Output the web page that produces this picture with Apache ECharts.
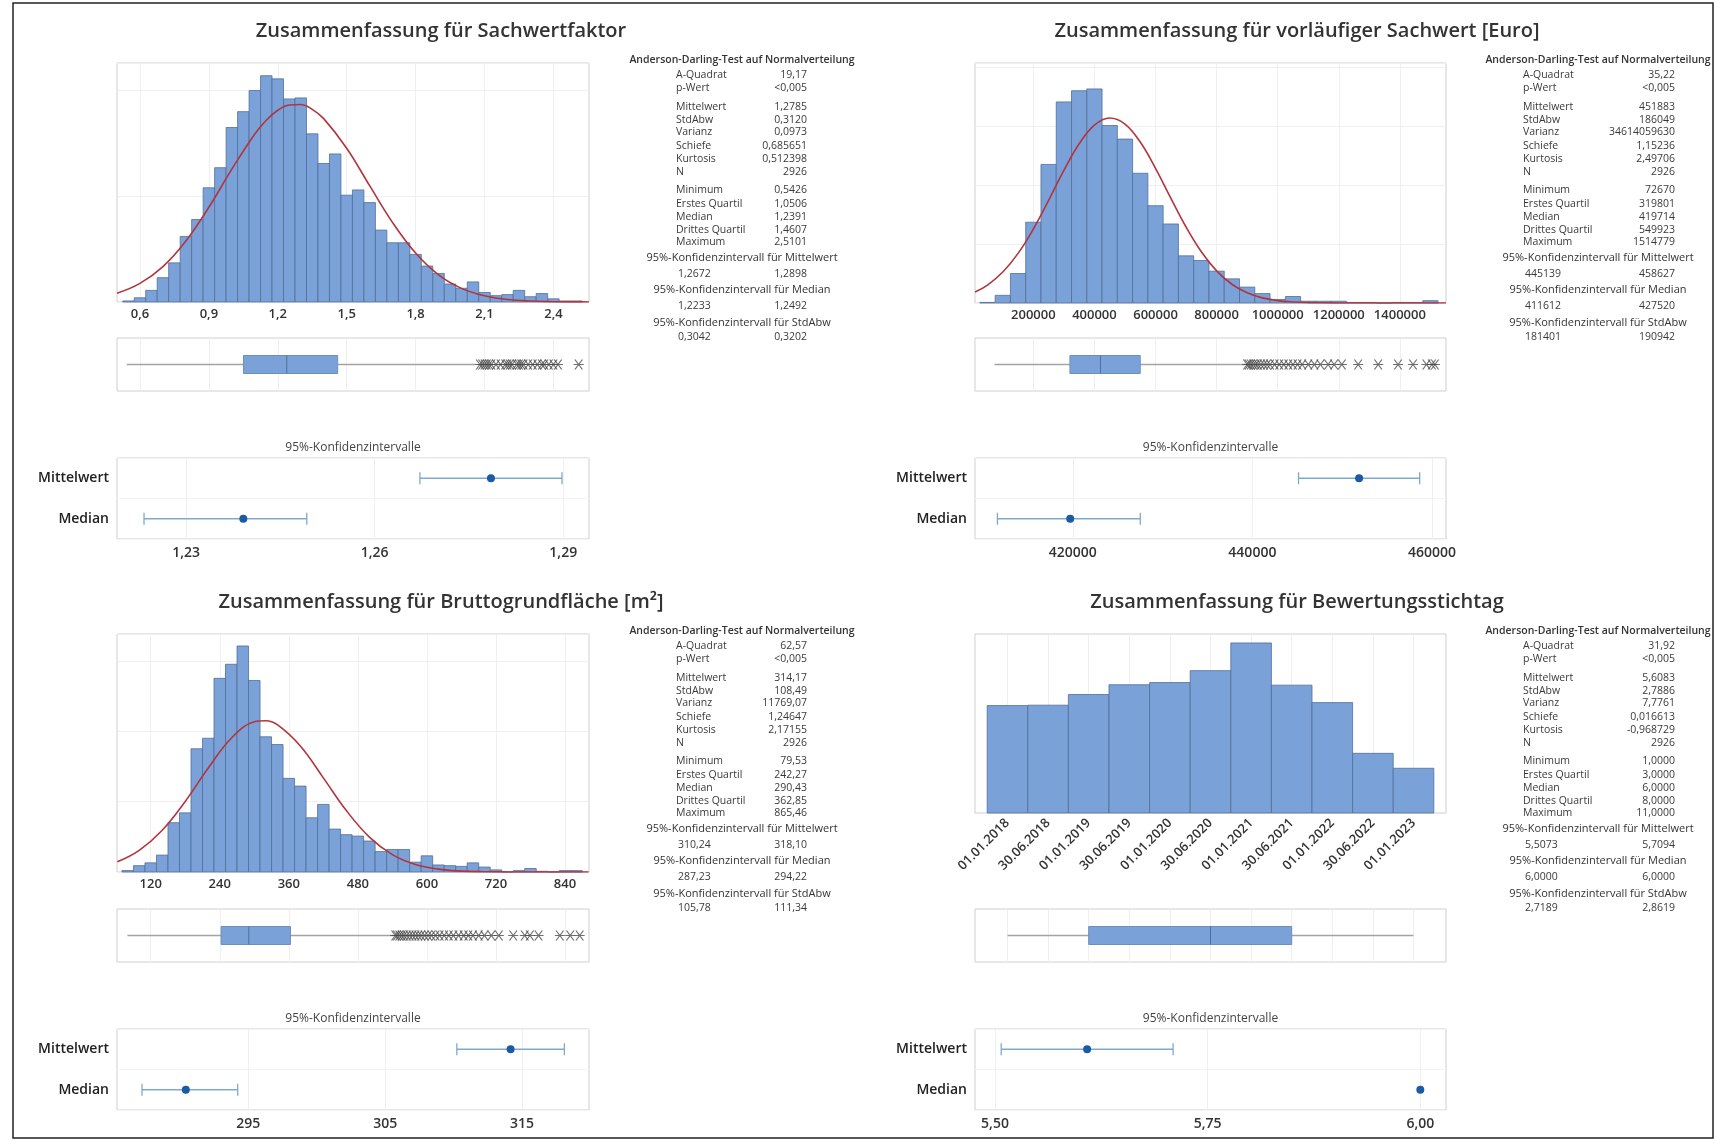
<!DOCTYPE html>
<html><head><meta charset="utf-8">
<script src="https://cdn.jsdelivr.net/npm/echarts@6/dist/echarts.min.js"></script>
<style>html,body{margin:0;padding:0;background:#fff}#c{width:1716px;height:1141px}</style>
</head><body><div id="c"></div>
<script>
// ---------------- DATA ----------------
// Sachwertfaktor
const sfBinWidth = 0.05;
const sfBinCenters = [0.55,0.60,0.65,0.70,0.75,0.80,0.85,0.90,0.95,1.00,1.05,1.10,1.15,1.20,1.25,1.30,1.35,1.40,1.45,1.50,1.55,1.60,1.65,1.70,1.75,1.80,1.85,1.90,1.95,2.00,2.05,2.10,2.15,2.20,2.25,2.30,2.35,2.40,2.45,2.50];
const sfCounts = [1,4,11,23,37,62,78,108,127,165,180,200,214,211,192,193,159,131,140,101,106,94,68,56,56,45,34,27,17,13,19,9,6,7,11,5,8,3,1,1];
const sfNormal = [[0.5,8.3],[0.6,17.6],[0.7,33.5],[0.8,57.7],[0.9,89.6],[1.0,125.6],[1.1,158.8],[1.15,171.9],[1.2,181.3],[1.25,186.3],[1.3,186.7],[1.35,182.2],[1.4,173.4],[1.5,145.4],[1.6,110.0],[1.7,75.1],[1.8,46.3],[1.9,25.7],[2.0,12.9],[2.1,5.9],[2.2,2.4],[2.3,0.9],[2.4,0.3],[2.5,0.1],[2.555,0.04]];
const sfTicks = [0.6,0.9,1.2,1.5,1.8,2.1,2.4];
const sfBox = [0.5426, 1.0506, 1.2391, 1.4607, 2.06];
const sfOutliers = [2.08,2.09,2.10,2.11,2.12,2.13,2.15,2.17,2.19,2.20,2.21,2.22,2.24,2.25,2.26,2.27,2.29,2.31,2.33,2.35,2.36,2.38,2.40,2.42,2.51];
const sfCIMean = [1.2672, 1.2785, 1.2898];
const sfCIMedian = [1.2233, 1.2391, 1.2492];
const sfCITicks = [1.23, 1.26, 1.29];
const sfStatRows = [['A-Quadrat','19,17'],['p-Wert','<0,005'],['Mittelwert','1,2785'],['StdAbw','0,3120'],['Varianz','0,0973'],['Schiefe','0,685651'],['Kurtosis','0,512398'],['N','2926'],['Minimum','0,5426'],['Erstes Quartil','1,0506'],['Median','1,2391'],['Drittes Quartil','1,4607'],['Maximum','2,5101']];
const sfStatCI = [['1,2672','1,2898'],['1,2233','1,2492'],['0,3042','0,3202']];

// vorläufiger Sachwert
const vsBinWidth = 50000;
const vsBinCenters = [50000,100000,150000,200000,250000,300000,350000,400000,450000,500000,550000,600000,650000,700000,750000,800000,850000,900000,950000,1000000,1050000,1100000,1150000,1200000,1250000,1300000,1350000,1400000,1450000,1500000];
const vsCounts = [1,13,50,137,235,341,360,363,301,278,220,165,134,80,72,54,41,27,16,6,11,3,3,3,1,1,0,1,1,4];
const vsNormal = [[9000,18.7],[50000,30.4],[100000,52.5],[150000,84.1],[200000,125.5],[250000,174.1],[300000,224.8],[350000,270.0],[400000,301.7],[450000,313.7],[500000,303.4],[550000,273.0],[600000,228.5],[650000,177.9],[700000,128.9],[750000,86.9],[800000,54.5],[850000,31.8],[900000,17.3],[950000,8.7],[1000000,4.1],[1050000,1.8],[1100000,0.7],[1150000,0.3],[1200000,0.1],[1300000,0.01],[1551000,0]];
const vsTicks = [200000,400000,600000,800000,1000000,1200000,1400000];
const vsBox = [72670, 319801, 419714, 549923, 893000];
const vsOutliers = [900000,905000,912000,920000,928000,935000,945000,955000,965000,975000,990000,1005000,1020000,1035000,1050000,1065000,1080000,1100000,1120000,1140000,1165000,1185000,1210000,1263500,1329000,1394000,1443000,1487000,1505000,1514779];
const vsCIMean = [445139, 451883, 458627];
const vsCIMedian = [411612, 419714, 427520];
const vsCITicks = [420000, 440000, 460000];
const vsStatRows = [['A-Quadrat','35,22'],['p-Wert','<0,005'],['Mittelwert','451883'],['StdAbw','186049'],['Varianz','34614059630'],['Schiefe','1,15236'],['Kurtosis','2,49706'],['N','2926'],['Minimum','72670'],['Erstes Quartil','319801'],['Median','419714'],['Drittes Quartil','549923'],['Maximum','1514779']];
const vsStatCI = [['445139','458627'],['411612','427520'],['181401','190942']];

// Bruttogrundfläche
const bgBinWidth = 20;
const bgBinCenters = [80,100,120,140,160,180,200,220,240,260,280,300,320,340,360,380,400,420,440,460,480,500,520,540,560,580,600,620,640,660,680,700,720,740,760,780,800,820,840,860];
const bgCounts = [2,9,13,24,70,84,175,190,275,295,321,272,192,181,133,122,77,96,61,53,51,44,29,32,32,14,23,10,9,8,13,7,3,0,2,5,1,0,2,2];
const bgNormal = [[62,14.4],[100,30.7],[140,59.3],[180,100.2],[220,147.7],[260,190.0],[300,213.4],[320,214.9],[340,209.2],[380,179.0],[420,133.7],[460,87.2],[500,49.6],[540,24.7],[580,10.7],[620,4.1],[660,1.3],[700,0.4],[740,0.1],[800,0],[881,0]];
const bgTicks = [120,240,360,480,600,720,840];
const bgBox = [79.53, 242.27, 290.43, 362.85, 542];
const bgOutliers = [545,548,552,556,560,565,570,575,580,585,590,596,602,608,615,622,630,638,646,655,664,672,680,690,700,712,725,750,770,779,794,831,849,865.46];
const bgCIMean = [310.24, 314.17, 318.10];
const bgCIMedian = [287.23, 290.43, 294.22];
const bgCITicks = [295, 305, 315];
const bgStatRows = [['A-Quadrat','62,57'],['p-Wert','<0,005'],['Mittelwert','314,17'],['StdAbw','108,49'],['Varianz','11769,07'],['Schiefe','1,24647'],['Kurtosis','2,17155'],['N','2926'],['Minimum','79,53'],['Erstes Quartil','242,27'],['Median','290,43'],['Drittes Quartil','362,85'],['Maximum','865,46']];
const bgStatCI = [['310,24','318,10'],['287,23','294,22'],['105,78','111,34']];

// Bewertungsstichtag
const bsBinWidth = 1;
const bsBinCenters = [1,2,3,4,5,6,7,8,9,10,11];
const bsCounts = [252,253,278,301,306,334,399,300,259,140,105];
const bsTickLabels = ['01.01.2018','30.06.2018','01.01.2019','30.06.2019','01.01.2020','30.06.2020','01.01.2021','30.06.2021','01.01.2022','30.06.2022','01.01.2023'];
const bsTicks = [1,2,3,4,5,6,7,8,9,10,11];
const bsBox = [1, 3, 6, 8, 11];
const bsOutliers = [];
const bsCIMean = [5.5073, 5.6083, 5.7094];
const bsCIMedian = [6.0, 6.0, 6.0];
const bsCITicks = [5.5, 5.75, 6.0];
const bsStatRows = [['A-Quadrat','31,92'],['p-Wert','<0,005'],['Mittelwert','5,6083'],['StdAbw','2,7886'],['Varianz','7,7761'],['Schiefe','0,016613'],['Kurtosis','-0,968729'],['N','2926'],['Minimum','1,0000'],['Erstes Quartil','3,0000'],['Median','6,0000'],['Drittes Quartil','8,0000'],['Maximum','11,0000']];
const bsStatCI = [['5,5073','5,7094'],['6,0000','6,0000'],['2,7189','2,8619']];

const ciCategories = ['Median', 'Mittelwert'];
const statHeadings = ['Anderson-Darling-Test auf Normalverteilung','95%-Konfidenzintervall für Mittelwert','95%-Konfidenzintervall für Median','95%-Konfidenzintervall für StdAbw'];

// ---------------- STYLE / LAYOUT ----------------
const FONT = '"Open Sans","Noto Sans",sans-serif';
const BAR = '#7aa2d8', BAR_EDGE = '#526f98';
const FRAME = '#cfcfcf', GRIDC = '#efefef';
const fmt = (v, d) => v.toFixed(d).replace('.', ',');

const grids = [], xAxes = [], yAxes = [], series = [], graphics = [];

function histItem(params, api) {
  const p0 = api.coord([api.value(0), 0]);
  const p1 = api.coord([api.value(1), api.value(2)]);
  return {type: 'rect', shape: {x: p0[0], y: p1[1], width: p1[0] - p0[0], height: p0[1] - p1[1]},
    style: {fill: BAR, stroke: BAR_EDGE, lineWidth: 0.8}};
}
function boxItem(params, api) {
  const P = i => api.coord([api.value(i), 0.5]);
  const lo = P(0), q1 = P(1), md = P(2), q3 = P(3), hi = P(4);
  const h = 18, cy = lo[1];
  return {type: 'group', children: [
    {type: 'line', shape: {x1: lo[0], y1: cy, x2: q1[0], y2: cy}, style: {stroke: '#a3a3a3', lineWidth: 1.3}},
    {type: 'line', shape: {x1: q3[0], y1: cy, x2: hi[0], y2: cy}, style: {stroke: '#a3a3a3', lineWidth: 1.3}},
    {type: 'rect', shape: {x: q1[0], y: cy - h / 2, width: q3[0] - q1[0], height: h}, style: {fill: BAR, stroke: '#6e8fbd', lineWidth: 1}},
    {type: 'line', shape: {x1: md[0], y1: cy - h / 2, x2: md[0], y2: cy + h / 2}, style: {stroke: '#50709c', lineWidth: 1}}
  ]};
}
function ciItem(params, api) {
  const y = api.value(3);
  const lo = api.coord([api.value(0), y]), est = api.coord([api.value(1), y]), hi = api.coord([api.value(2), y]);
  const ch = [];
  const col = '#7ea9cf';
  if (api.value(0) !== api.value(2)) {
    ch.push({type: 'line', shape: {x1: lo[0], y1: lo[1], x2: hi[0], y2: hi[1]}, style: {stroke: col, lineWidth: 1.3}});
    ch.push({type: 'line', shape: {x1: lo[0], y1: lo[1] - 6, x2: lo[0], y2: lo[1] + 6}, style: {stroke: col, lineWidth: 1.3}});
    ch.push({type: 'line', shape: {x1: hi[0], y1: hi[1] - 6, x2: hi[0], y2: hi[1] + 6}, style: {stroke: col, lineWidth: 1.3}});
  }
  ch.push({type: 'circle', shape: {cx: est[0], cy: est[1], r: 4}, style: {fill: '#1b5ba3'}});
  return {type: 'group', children: ch};
}

function txt(x, y, text, size, align, opts) {
  graphics.push({type: 'text', x: x, y: y, silent: true,
    style: Object.assign({text: text, fontSize: size, fontFamily: FONT, fill: '#3a3a3a', align: align, verticalAlign: 'middle'}, opts || {})});
}

function addPanel(p) {
  const dy = p.dy;
  // ---- histogram ----
  let gi = grids.length;
  grids.push({left: p.gx, top: 63 + dy, width: p.gw, height: p.hh, show: true, borderColor: FRAME, borderWidth: 1, containLabel: false});
  xAxes.push({type: 'value', gridIndex: gi, min: p.xMin, max: p.xMax,
    axisLine: {show: false}, axisTick: {show: false, customValues: p.xTicks},
    axisLabel: {customValues: p.xTicks, formatter: p.xLabel, fontSize: 13, fontWeight: 600, color: '#333', fontFamily: FONT, rotate: p.rot || 0, margin: p.rot ? 8 : 6},
    splitLine: {show: true, lineStyle: {color: GRIDC}}});
  yAxes.push({type: 'value', gridIndex: gi, min: 0, max: p.yMax, interval: 100,
    axisLabel: {show: false}, axisLine: {show: false}, axisTick: {show: false}, splitLine: {show: p.ygrid, lineStyle: {color: GRIDC}}});
  series.push({type: 'custom', xAxisIndex: gi, yAxisIndex: gi, renderItem: histItem, encode: {x: [0, 1], y: 2},
    data: p.centers.map((c, i) => [c - p.w / 2, c + p.w / 2, p.counts[i]]), z: 2, silent: true});
  if (p.curve) series.push({type: 'line', xAxisIndex: gi, yAxisIndex: gi, data: p.curve, smooth: 0.4, symbol: 'none',
    lineStyle: {color: '#b3343c', width: 1.6}, z: 3, silent: true});
  // ---- boxplot ----
  gi = grids.length;
  grids.push({left: p.gx, top: 338 + dy, width: p.gw, height: 53, show: true, borderColor: FRAME, borderWidth: 1});
  xAxes.push({type: 'value', gridIndex: gi, min: p.xMin, max: p.xMax, axisLine: {show: false},
    axisTick: {show: false, customValues: p.xTicks}, axisLabel: {show: false, customValues: p.xTicks},
    splitLine: {show: true, lineStyle: {color: GRIDC}}});
  yAxes.push({type: 'value', gridIndex: gi, min: 0, max: 1, show: false, splitLine: {show: false}});
  series.push({type: 'custom', xAxisIndex: gi, yAxisIndex: gi, renderItem: boxItem, encode: {x: [0, 1, 2, 3, 4]},
    data: [p.box], z: 2, silent: true});
  if (p.outliers.length) series.push({type: 'scatter', xAxisIndex: gi, yAxisIndex: gi,
    data: p.outliers.map(v => [v, 0.5]), symbol: 'path://M0,4L8,4M1,1L7,7M7,1L1,7', symbolSize: 10,
    itemStyle: {color: 'rgba(0,0,0,0)', borderColor: '#4a4a4a', borderWidth: 1.2}, z: 3, silent: true});
  // ---- CI ----
  gi = grids.length;
  grids.push({left: p.gx, top: 458 + dy, width: p.gw, height: 81, show: true, borderColor: FRAME, borderWidth: 1});
  xAxes.push({type: 'value', gridIndex: gi, min: p.ciMin, max: p.ciMax, axisLine: {show: false},
    axisTick: {show: false, customValues: p.ciTicks},
    axisLabel: {customValues: p.ciTicks, formatter: v => fmt(v, p.ciDec), fontSize: 14, fontWeight: 600, color: '#333', fontFamily: FONT, margin: 7},
    splitLine: {show: true, lineStyle: {color: GRIDC}}});
  yAxes.push({type: 'category', gridIndex: gi, data: ciCategories, axisLine: {show: false}, axisTick: {show: false},
    axisLabel: {fontSize: 14, fontWeight: 600, color: '#222', fontFamily: FONT, margin: 8},
    splitLine: {show: true, interval: 0, lineStyle: {color: '#f4f4f4'}}});
  series.push({type: 'custom', xAxisIndex: gi, yAxisIndex: gi, renderItem: ciItem, encode: {x: [0, 1, 2], y: 3},
    data: [[p.ciMedian[0], p.ciMedian[1], p.ciMedian[2], 0], [p.ciMean[0], p.ciMean[1], p.ciMean[2], 1]], z: 3, silent: true});
  txt(p.gx + p.gw / 2, 448 + dy, '95%-Konfidenzintervalle', 12, 'center', {fill: '#444'});
  // ---- title ----
  txt(p.titleX, 31 + dy, p.title, 20, 'center', {fill: '#333', fontWeight: 600});
  // ---- stats ----
  const rowY = [75.5, 87.6, 107, 120, 132.5, 145.6, 158.7, 171.8, 190.4, 203.6, 216.7, 229.8, 241.9];
  txt(p.sx, 60 + dy, statHeadings[0], 10.5, 'center', {fill: '#333', fontWeight: 600});
  p.stats.forEach((r, i) => {
    txt(p.lx, rowY[i] + dy, r[0], 10.5, 'left');
    txt(p.vx, rowY[i] + dy, r[1], 10.5, 'right');
  });
  const ciHY = [258.3, 290, 322.8], ciVY = [273.6, 306.4, 337];
  p.statCI.forEach((r, i) => {
    txt(p.sx, ciHY[i] + dy, statHeadings[i + 1], 11, 'center', {fill: '#333'});
    txt(p.lx + 2, ciVY[i] + dy, r[0], 10.5, 'left');
    txt(p.vx, ciVY[i] + dy, r[1], 10.5, 'right');
  });
}

const L = {gx: 117, gw: 472, sx: 742, lx: 676, vx: 807, titleX: 441};
const R = {gx: 975, gw: 471, sx: 1598, lx: 1523, vx: 1675, titleX: 1297};
const DY = 571;

addPanel(Object.assign({}, L, {dy: 0, title: 'Zusammenfassung für Sachwertfaktor', hh: 239, ygrid: true,
  xMin: 0.5, xMax: 2.555, xTicks: sfTicks, xLabel: v => fmt(v, 1), yMax: 226,
  centers: sfBinCenters, counts: sfCounts, w: sfBinWidth, curve: sfNormal,
  box: sfBox, outliers: sfOutliers, ciMin: 1.2190, ciMax: 1.2941, ciTicks: sfCITicks, ciDec: 2,
  ciMean: sfCIMean, ciMedian: sfCIMedian, stats: sfStatRows, statCI: sfStatCI}));

addPanel(Object.assign({}, R, {dy: 0, title: 'Zusammenfassung für vorläufiger Sachwert [Euro]', hh: 240, ygrid: true,
  xMin: 9000, xMax: 1551000, xTicks: vsTicks, xLabel: v => fmt(v, 0), yMax: 407,
  centers: vsBinCenters, counts: vsCounts, w: vsBinWidth, curve: vsNormal,
  box: vsBox, outliers: vsOutliers, ciMin: 409114, ciMax: 461560, ciTicks: vsCITicks, ciDec: 0,
  ciMean: vsCIMean, ciMedian: vsCIMedian, stats: vsStatRows, statCI: vsStatCI}));

addPanel(Object.assign({}, L, {dy: DY, title: 'Zusammenfassung für Bruttogrundfläche [m²]', hh: 238, ygrid: true,
  xMin: 61.4, xMax: 881.7, xTicks: bgTicks, xLabel: v => fmt(v, 0), yMax: 338,
  centers: bgBinCenters, counts: bgCounts, w: bgBinWidth, curve: bgNormal,
  box: bgBox, outliers: bgOutliers, ciMin: 285.4, ciMax: 319.9, ciTicks: bgCITicks, ciDec: 0,
  ciMean: bgCIMean, ciMedian: bgCIMedian, stats: bgStatRows, statCI: bgStatCI}));

addPanel(Object.assign({}, R, {dy: DY, title: 'Zusammenfassung für Bewertungsstichtag', hh: 179, ygrid: false, rot: 45,
  xMin: 0.2, xMax: 11.8, xTicks: bsTicks, xLabel: v => bsTickLabels[Math.round(v) - 1] || '', yMax: 420,
  centers: bsBinCenters, counts: bsCounts, w: bsBinWidth, curve: null,
  box: bsBox, outliers: bsOutliers, ciMin: 5.4765, ciMax: 6.0302, ciTicks: bsCITicks, ciDec: 2,
  ciMean: bsCIMean, ciMedian: bsCIMedian, stats: bsStatRows, statCI: bsStatCI}));

graphics.push({type: 'rect', shape: {x: 13, y: 3, width: 1700, height: 1135}, silent: true,
  style: {fill: 'none', stroke: '#222', lineWidth: 1.5}});

const chart = echarts.init(document.getElementById('c'), null, {renderer: 'canvas'});
chart.setOption({
  backgroundColor: '#fff', animation: false,
  grid: grids, xAxis: xAxes, yAxis: yAxes, series: series, graphic: graphics
});
</script></body></html>
